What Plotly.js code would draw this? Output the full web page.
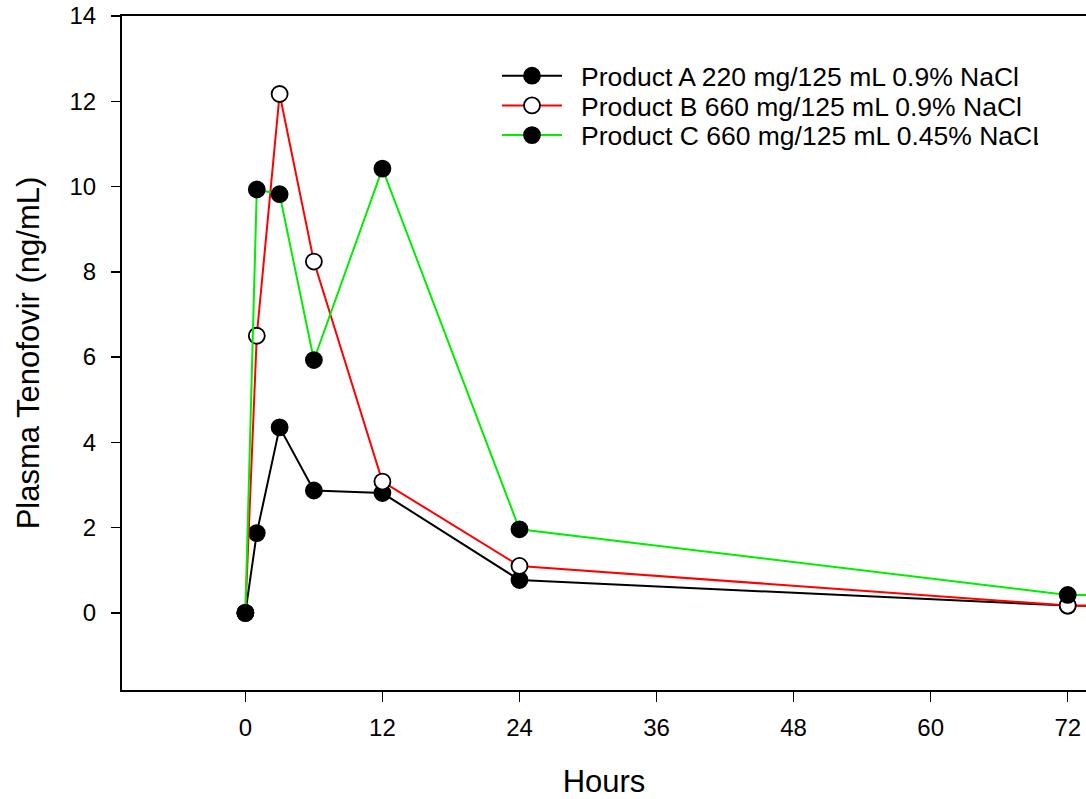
<!DOCTYPE html>
<html><head><meta charset="utf-8">
<script src="https://cdn.plot.ly/plotly-3.0.1.min.js"></script>
<style>body{margin:0;padding:0;background:#fff}#chart{width:1086px;height:799px}</style>
</head><body><div id="chart"></div>
<script>
const hours = [0, 1, 3, 6, 12, 24, 72, 96];
const productA = [0, 1.87, 4.35, 2.87, 2.81, 0.77, 0.17, 0.14];
const productB = [0, 6.5, 12.17, 8.24, 3.08, 1.10, 0.17, 0.14];
const productC = [0, 9.93, 9.82, 5.93, 10.42, 1.96, 0.42, 0.38];
const names = ["Product A 220 mg/125 mL 0.9% NaCl", "Product B 660 mg/125 mL 0.9% NaCl", "Product C 660 mg/125 mL 0.45% NaCL"];
const xTicks = [0, 12, 24, 36, 48, 60, 72];
const yTicks = [0, 2, 4, 6, 8, 10, 12, 14];

const FAM = 'Liberation Sans, Arial, sans-serif';
function tr(y, name, lineColor, fill) {
  return {x: hours, y: y, name: name, type: 'scatter', mode: 'lines+markers', cliponaxis: true,
    line: {color: lineColor, width: 2},
    marker: {size: 16, color: fill, line: {color: '#000', width: 1.8}}};
}
const data = [
  tr(productA, names[0], '#000000', '#000000'),
  tr(productB, names[1], '#ff0000', '#ffffff'),
  tr(productC, names[2], '#00ee00', '#000000')
];
const tf = {family: FAM, size: 24, color: '#000'};
const layout = {
  width: 1086, height: 799,
  margin: {l: 122, r: 0, t: 16, b: 109},
  paper_bgcolor: '#fff', plot_bgcolor: '#fff',
  showlegend: true,
  legend: {x: 0.389, y: 0.9466, xanchor: 'left', yanchor: 'top', bgcolor: 'rgba(0,0,0,0)',
    font: {family: FAM, size: 26.5, color: '#000'},
    itemwidth: 60, tracegroupgap: 0},
  xaxis: {range: [-10.8, 73.6], tickvals: xTicks, ticktext: xTicks.map(String),
    showgrid: false, zeroline: false, showline: true, linecolor: '#000', linewidth: 2,
    mirror: true, ticks: 'outside', ticklen: 10, tickwidth: 1.5, tickcolor: '#000',
    tickfont: tf, ticklabelstandoff: 5,
    title: {text: 'Hours', font: {family: FAM, size: 31, color: '#000'}, standoff: 32}},
  yaxis: {range: [-1.81, 14], tickvals: yTicks, ticktext: yTicks.map(String),
    showgrid: false, zeroline: false, showline: true, linecolor: '#000', linewidth: 2,
    mirror: false, ticks: 'outside', ticklen: 9, tickwidth: 1.5, tickcolor: '#000',
    tickfont: tf, ticklabelstandoff: 10,
    title: {text: 'Plasma Tenofovir (ng/mL)', font: {family: FAM, size: 31, color: '#000'}, standoff: 21}}
};
Plotly.newPlot('chart', data, layout, {displayModeBar: false, staticPlot: true}).then(function (gd) {
  const traces = gd.querySelectorAll('.legend .traces');
  const spacing = 29.7;
  let y0 = null;
  traces.forEach(function (t, i) {
    const m = /translate\(\s*([-\d.]+)[ ,]+([-\d.]+)\s*\)/.exec(t.getAttribute('transform') || '');
    if (!m) return;
    const x = parseFloat(m[1]), y = parseFloat(m[2]);
    if (y0 === null) y0 = y;
    t.setAttribute('transform', 'translate(' + x + ',' + (y0 + i * spacing) + ')');
    const txt = t.querySelector('.legendtext');
    if (txt) { const tx = parseFloat(txt.getAttribute('x') || 0); txt.setAttribute('x', tx + 14); }
  });
});
</script></body></html>
